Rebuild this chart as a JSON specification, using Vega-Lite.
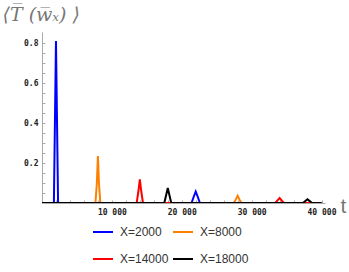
{
  "$schema": "https://vega.github.io/schema/vega-lite/v6.json",
  "autosize": {"type": "none"},
  "width": 283,
  "height": 171,
  "padding": {"left": 42, "top": 32, "right": 24, "bottom": 69},
  "background": "white",
  "config": {"view": {"stroke": null}},
  "data": {"values": [
    {"t": 0, "v": 0, "s": "X=2000"},
    {"t": 1700, "v": 0, "s": "X=2000"},
    {"t": 2000, "v": 0.81, "s": "X=2000"},
    {"t": 2300, "v": 0, "s": "X=2000"},
    {"t": 21400, "v": 0, "s": "X=2000"},
    {"t": 21700, "v": 0.03, "s": "X=2000"},
    {"t": 22000, "v": 0.057, "s": "X=2000"},
    {"t": 22300, "v": 0.03, "s": "X=2000"},
    {"t": 22600, "v": 0, "s": "X=2000"},
    {"t": 40000, "v": 0, "s": "X=2000"},
    {"t": 0, "v": 0, "s": "X=8000"},
    {"t": 7650, "v": 0, "s": "X=8000"},
    {"t": 7850, "v": 0.1, "s": "X=8000"},
    {"t": 8000, "v": 0.235, "s": "X=8000"},
    {"t": 8150, "v": 0.1, "s": "X=8000"},
    {"t": 8350, "v": 0, "s": "X=8000"},
    {"t": 27450, "v": 0, "s": "X=8000"},
    {"t": 27750, "v": 0.018, "s": "X=8000"},
    {"t": 28000, "v": 0.036, "s": "X=8000"},
    {"t": 28250, "v": 0.018, "s": "X=8000"},
    {"t": 28550, "v": 0, "s": "X=8000"},
    {"t": 40000, "v": 0, "s": "X=8000"},
    {"t": 0, "v": 0, "s": "X=14000"},
    {"t": 13550, "v": 0, "s": "X=14000"},
    {"t": 13800, "v": 0.06, "s": "X=14000"},
    {"t": 14000, "v": 0.118, "s": "X=14000"},
    {"t": 14200, "v": 0.06, "s": "X=14000"},
    {"t": 14450, "v": 0, "s": "X=14000"},
    {"t": 33400, "v": 0, "s": "X=14000"},
    {"t": 33700, "v": 0.013, "s": "X=14000"},
    {"t": 34000, "v": 0.025, "s": "X=14000"},
    {"t": 34300, "v": 0.013, "s": "X=14000"},
    {"t": 34600, "v": 0, "s": "X=14000"},
    {"t": 40000, "v": 0, "s": "X=14000"},
    {"t": 0, "v": 0, "s": "X=18000"},
    {"t": 17500, "v": 0, "s": "X=18000"},
    {"t": 17770, "v": 0.04, "s": "X=18000"},
    {"t": 18000, "v": 0.075, "s": "X=18000"},
    {"t": 18230, "v": 0.04, "s": "X=18000"},
    {"t": 18500, "v": 0, "s": "X=18000"},
    {"t": 37350, "v": 0, "s": "X=18000"},
    {"t": 37650, "v": 0.009, "s": "X=18000"},
    {"t": 38000, "v": 0.019, "s": "X=18000"},
    {"t": 38350, "v": 0.009, "s": "X=18000"},
    {"t": 38650, "v": 0, "s": "X=18000"},
    {"t": 40000, "v": 0, "s": "X=18000"}
  ]},
  "mark": {"type": "line", "strokeWidth": 2, "clip": true},
  "encoding": {
    "x": {
      "field": "t", "type": "quantitative",
      "scale": {"domain": [0, 40500], "nice": false, "zero": false},
      "axis": {
        "values": [2000,4000,6000,8000,10000,12000,14000,16000,18000,20000,22000,24000,26000,28000,30000,32000,34000,36000,38000,40000],
        "labelExpr": "datum.value % 10000 == 0 ? replace(format(datum.value, ','), ',', ' ') : ''",
        "labelFont": "DejaVu Sans Mono", "labelFontWeight": "bold", "labelFontSize": 8, "labelColor": "#222",
        "labelPadding": 8, "labelFlush": false, "labelOverlap": false,
        "tickSize": -3, "tickColor": "#aaa", "domainColor": "#aaa", "grid": false,
        "title": "t", "titleFont": "Liberation Sans", "titleFontSize": 21, "titleFontWeight": "normal", "titleColor": "#777",
        "titleX": 301, "titleY": 9, "titleAlign": "center", "titleBaseline": "alphabetic", "titleAngle": 0
      }
    },
    "y": {
      "field": "v", "type": "quantitative",
      "scale": {"domain": [0, 0.855], "nice": false},
      "axis": {
        "values": [0.05,0.1,0.15,0.2,0.25,0.3,0.35,0.4,0.45,0.5,0.55,0.6,0.65,0.7,0.75,0.8],
        "labelExpr": "abs(datum.value*5 - round(datum.value*5)) < 0.001 ? format(datum.value, '.1f') : ''",
        "labelFont": "DejaVu Sans Mono", "labelFontWeight": "bold", "labelFontSize": 8, "labelColor": "#222",
        "labelPadding": 7, "labelFlush": false, "labelOverlap": false,
        "tickSize": -3, "tickColor": "#aaa", "domainColor": "#aaa", "grid": false,
        "title": "⟨T̅ (w̅ₓ) ⟩", "titleFont": "DejaVu Serif", "titleFontStyle": "italic", "titleFontSize": 19, "titleFontWeight": "normal", "titleColor": "#777",
        "titleX": -40, "titleY": -12, "titleAlign": "left", "titleBaseline": "alphabetic", "titleAngle": 0
      }
    },
    "color": {
      "field": "s", "type": "nominal",
      "scale": {"domain": ["X=2000", "X=8000", "X=14000", "X=18000"], "range": ["#0000ff", "#ff8000", "#ff0000", "#000000"]},
      "legend": {
        "title": null, "orient": "none", "legendX": 50, "legendY": 189, "columns": 2, "direction": "horizontal",
        "symbolType": "stroke", "symbolSize": 400, "symbolStrokeWidth": 2,
        "labelFont": "Liberation Sans", "labelFontSize": 12, "labelColor": "#333", "labelOffset": 6,
        "columnPadding": 0, "rowPadding": 10, "padding": 0
      }
    }
  }
}
